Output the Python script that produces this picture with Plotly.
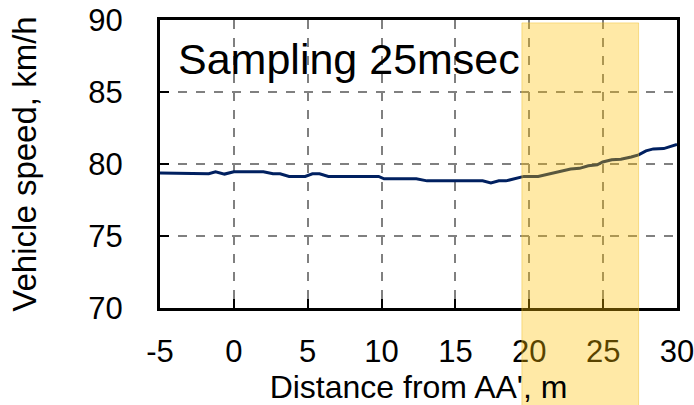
import plotly.graph_objects as go

distance_m = [-5, -1.7, -1.24, -0.63, 0.0, 2.0, 2.65, 3.13, 3.74, 4.83, 5.32, 5.8, 6.4,
              9.8, 10.17, 12.35, 13.08, 16.84, 17.4, 17.94, 18.42, 19.03, 19.64, 20.6,
              21.1, 22.06, 22.8, 23.4, 24.0, 24.6, 24.97, 25.58, 26.2, 26.9, 27.4, 27.9,
              28.4, 29.1, 30.0]
speed_kmh = [79.37, 79.32, 79.46, 79.3, 79.46, 79.46, 79.32, 79.32, 79.14, 79.14, 79.32,
             79.32, 79.14, 79.14, 78.97, 78.97, 78.83, 78.83, 78.69, 78.83, 78.83, 78.97,
             79.14, 79.14, 79.25, 79.49, 79.65, 79.7, 79.88, 79.95, 80.14, 80.3, 80.33,
             80.49, 80.63, 80.91, 81.05, 81.07, 81.36]
band_start, band_end = 19.5, 27.4
x_ticks = [-5, 0, 5, 10, 15, 20, 25, 30]
x_tick_labels = ["-5", "0", "5", "10", "15", "20", "25", "30"]
y_ticks = [70, 75, 80, 85, 90]
x_range = [-5, 30]
y_range = [70, 90]

FONT = "Liberation Sans, Arial, sans-serif"

fig = go.Figure()
fig.add_trace(go.Scatter(x=distance_m, y=speed_kmh, mode="lines",
                         line=dict(color="#002060", width=3), showlegend=False,
                         hoverinfo="skip"))

fig.add_shape(type="rect", xref="x", yref="paper", x0=band_start, x1=band_end,
              y0=-0.34, y1=0.99, layer="above",
              fillcolor="rgba(255,192,0,0.35)", line=dict(color="rgba(240,190,40,0.45)", width=1))

fig.add_annotation(text="Sampling 25msec", xref="paper", yref="paper", x=0.03, y=0.865,
                   xanchor="left", yanchor="middle", showarrow=False,
                   font=dict(size=43, color="black", family=FONT))

axis_common = dict(showline=True, linecolor="black", linewidth=3, mirror=True,
                   ticks="inside", ticklen=9, tickwidth=2, tickcolor="black",
                   showgrid=True, gridcolor="#808080", griddash="dash", gridwidth=1.5,
                   zeroline=False, automargin=False, ticklabeloverflow="allow",
                   tickfont=dict(size=31, color="black", family=FONT))

fig.update_xaxes(range=x_range, tickvals=x_ticks, ticktext=x_tick_labels, ticklabelstandoff=14,
                 title=dict(text="Distance from AA', m", font=dict(size=32, color="black", family=FONT), standoff=5),
                 **axis_common)
fig.update_yaxes(range=y_range, tickvals=y_ticks, ticklabelstandoff=28,
                 title=dict(text="Vehicle speed, km/h", font=dict(size=33, color="black", family=FONT), standoff=42),
                 **axis_common)

fig.update_layout(width=694, height=405, margin=dict(l=160, r=17, t=20, b=97),
                  plot_bgcolor="white", paper_bgcolor="white")

fig.write_html("out.html", config={"displayModeBar": False},
               post_script="document.body.style.margin='0';document.body.style.padding='0';")
